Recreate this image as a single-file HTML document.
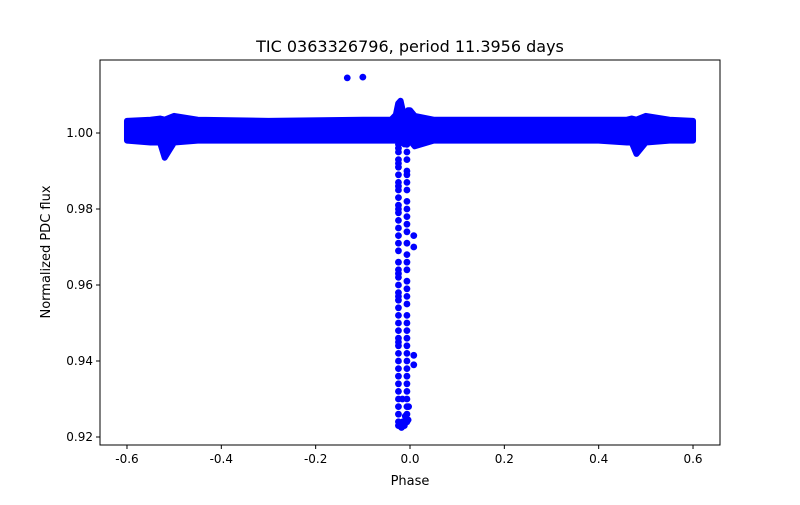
<!DOCTYPE html>
<html><head><meta charset="utf-8"><style>
body{margin:0;background:#fff}
svg text{font-family:"DejaVu Sans","Liberation Sans",sans-serif;fill:#000}
</style></head><body>
<svg id="c" width="800" height="500"></svg>
<script>
const bandPhase=[-0.6,-0.55,-0.53,-0.52,-0.51,-0.50,-0.45,-0.3,-0.1,-0.04,-0.03,-0.025,-0.02,-0.012,-0.008,-0.004,0.0,0.01,0.05,0.2,0.4,0.46,0.47,0.48,0.49,0.5,0.55,0.6];
const bandUpper=[1.0032,1.0035,1.0038,1.0035,1.004,1.0045,1.0035,1.0032,1.0035,1.0035,1.0048,1.0078,1.0085,1.004,1.0035,1.006,1.006,1.0045,1.0035,1.0035,1.0035,1.0035,1.0038,1.0035,1.004,1.0045,1.0035,1.0032];
const bandLower=[0.998,0.9975,0.9975,0.9935,0.9955,0.9975,0.998,0.998,0.998,0.998,0.998,0.998,0.998,0.997,0.998,0.998,0.998,0.9965,0.998,0.998,0.998,0.9975,0.9975,0.9945,0.996,0.9975,0.998,0.998];
const leftColPhase=-0.0245;
const leftColFlux=[0.997,0.996,0.995,0.993,0.992,0.991,0.989,0.987,0.986,0.985,0.983,0.981,0.980,0.979,0.977,0.975,0.973,0.971,0.969,0.966,0.964,0.963,0.962,0.960,0.958,0.957,0.956,0.954,0.952,0.950,0.948,0.946,0.945,0.944,0.942,0.940,0.938,0.936,0.934,0.932,0.930,0.928,0.926,0.924,0.923];
const rightColPhase=-0.0065;
const rightColFlux=[0.997,0.995,0.993,0.990,0.989,0.987,0.985,0.982,0.980,0.978,0.976,0.974,0.971,0.968,0.966,0.964,0.961,0.959,0.957,0.955,0.952,0.950,0.948,0.946,0.944,0.942,0.940,0.938,0.936,0.934,0.932,0.930,0.928,0.926,0.924];
const extraPhase=[0.008,0.008,0.008,0.008,-0.018,-0.015,-0.012,-0.01,-0.003,-0.004,-0.016,-0.133,-0.1];
const extraFlux=[0.973,0.970,0.9415,0.939,0.9225,0.924,0.923,0.9255,0.928,0.9245,0.930,1.0145,1.0147];
const xTicks=[-0.6,-0.4,-0.2,0.0,0.2,0.4,0.6];
const yTicks=[0.92,0.94,0.96,0.98,1.00];

const L=100,R=720,T=60,B=445;
const X=p=>410+p*471.7;
const Y=f=>133+(1-f)*3800;
const svg=document.getElementById('c');
const NS='http://www.w3.org/2000/svg';
function mk(t,a,parent){const e=document.createElementNS(NS,t);for(const k in a)e.setAttribute(k,a[k]);(parent||svg).appendChild(e);return e;}
const g=mk('g',{});


let pts=bandPhase.map((p,i)=>X(p)+','+Y(bandUpper[i]));
for(let i=bandPhase.length-1;i>=0;i--)pts.push(X(bandPhase[i])+','+Y(bandLower[i]));
const band=mk('polygon',{points:pts.join(' '),fill:'#0000ff',stroke:'#0000ff','stroke-width':6,'stroke-linejoin':'round'},g);


function dot(p,f){const c=mk('circle',{cx:X(p),cy:Y(f),r:3.4,fill:'#0000ff'},g);

}
leftColFlux.forEach(f=>dot(leftColPhase,f));
rightColFlux.forEach(f=>dot(rightColPhase,f));
extraPhase.forEach((p,i)=>dot(p,extraFlux[i]));
const fr=mk('rect',{x:L,y:T,width:R-L,height:B-T,fill:'none',stroke:'#000','stroke-width':1});


xTicks.forEach(v=>{const x=X(v);mk('line',{x1:x,x2:x,y1:B,y2:B+4,stroke:'#000'});
const t=mk('text',{x:x,y:B+18,'font-size':12,'text-anchor':'middle'});t.textContent=v.toFixed(1);

});
yTicks.forEach(v=>{const y=Y(v);mk('line',{x1:L-4,x2:L,y1:y,y2:y,stroke:'#000'});
const t=mk('text',{x:L-7,y:y+4,'font-size':12,'text-anchor':'end'});t.textContent=v.toFixed(2);

});
const ti=mk('text',{x:410,y:52,'font-size':16,'text-anchor':'middle'});ti.textContent='TIC 0363326796, period 11.3956 days';


const xl=mk('text',{x:410,y:485,'font-size':13,'text-anchor':'middle'});xl.textContent='Phase';


const yl=mk('text',{x:50,y:252,'font-size':13,'text-anchor':'middle',transform:'rotate(-90 50 252)'});yl.textContent='Normalized PDC flux';


</script>
</body></html>
